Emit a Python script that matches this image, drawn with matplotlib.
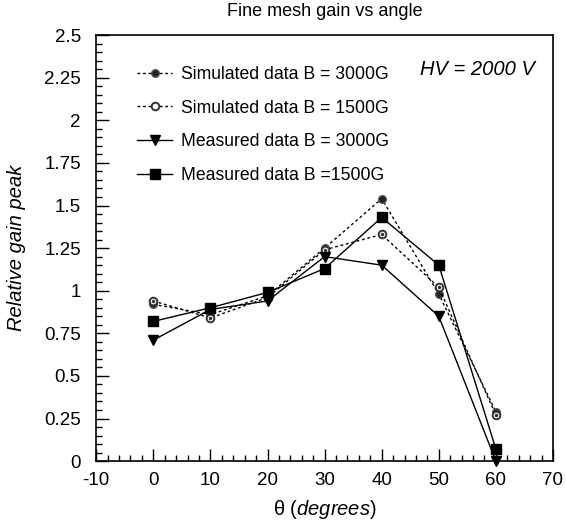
import matplotlib.pyplot as plt
from matplotlib.ticker import MultipleLocator

plt.rcParams['font.family'] = ['Liberation Sans', 'DejaVu Sans']
plt.rcParams['axes.unicode_minus'] = False
plt.rcParams['mathtext.fontset'] = 'custom'
plt.rcParams['mathtext.rm'] = 'Liberation Sans'
plt.rcParams['mathtext.it'] = 'Liberation Sans:italic'

angles = [0, 10, 20, 30, 40, 50, 60]
sim_3000 = [0.92, 0.86, 0.97, 1.25, 1.54, 0.98, 0.29]
sim_1500 = [0.94, 0.84, 0.96, 1.24, 1.33, 1.02, 0.27]
meas_3000 = [0.71, 0.89, 0.94, 1.20, 1.15, 0.85, 0.0]
meas_1500 = [0.82, 0.90, 0.99, 1.13, 1.43, 1.15, 0.07]

fig = plt.figure(figsize=(5.66, 5.24), dpi=100)
ax = fig.add_axes([0.170, 0.120, 0.807, 0.813])

ax.plot(angles, sim_3000, ls=(0, (2, 2)), lw=1, color='black', marker='o', ms=5.5,
        mfc='#222222', mec='#555555', label='Simulated data B = 3000G', clip_on=False)
ax.plot(angles, sim_1500, ls=(0, (2, 2)), lw=1, color='black', marker='o', ms=5.5,
        mfc='white', mec='#333333', mew=1.4, label='Simulated data B = 1500G', clip_on=False)
ax.plot(angles, sim_1500, ls='none', marker='.', ms=3, color='#333333', clip_on=False)
ax.plot(angles, meas_3000, ls='-', lw=1, color='black', marker='v', ms=7,
        label='Measured data B = 3000G', clip_on=False)
ax.plot(angles, meas_1500, ls='-', lw=1, color='black', marker='s', ms=7,
        label='Measured data B =1500G', clip_on=False)

ax.set_xlim(-10, 70)
ax.set_ylim(0, 2.5)
ax.xaxis.set_major_locator(MultipleLocator(10))
ax.xaxis.set_minor_locator(MultipleLocator(2))
ax.yaxis.set_minor_locator(MultipleLocator(0.05))
ax.set_yticks([0, 0.25, 0.5, 0.75, 1, 1.25, 1.5, 1.75, 2, 2.25, 2.5])
ax.set_yticklabels(['0', '0.25', '0.5', '0.75', '1', '1.25', '1.5', '1.75', '2', '2.25', '2.5'])
ax.tick_params(which='both', direction='in', labelsize=13.5, width=1)
ax.tick_params(which='major', length=9)
ax.tick_params(axis='y', which='major', pad=11)
ax.tick_params(axis='x', which='major', pad=8)
ax.tick_params(which='minor', length=4)
for s in ax.spines.values():
    s.set_linewidth(1.2)

ax.set_title('Fine mesh gain vs angle', fontsize=13, pad=14)
ax.set_xlabel('θ$\\it{\\ (degrees)}$', fontsize=14.5, labelpad=6)
ax.set_ylabel('Relative gain peak', fontsize=14.5, style='italic', labelpad=13)
ax.text(0.96, 0.92, 'HV = 2000 V', transform=ax.transAxes, ha='right', va='center',
        fontsize=14.5, style='italic')

ax.legend(loc='upper left', bbox_to_anchor=(0.055, 0.965), frameon=False, fontsize=12.7,
          handlelength=2.0, labelspacing=0.95, handletextpad=0.5)

fig.savefig('out.png', dpi=100)
